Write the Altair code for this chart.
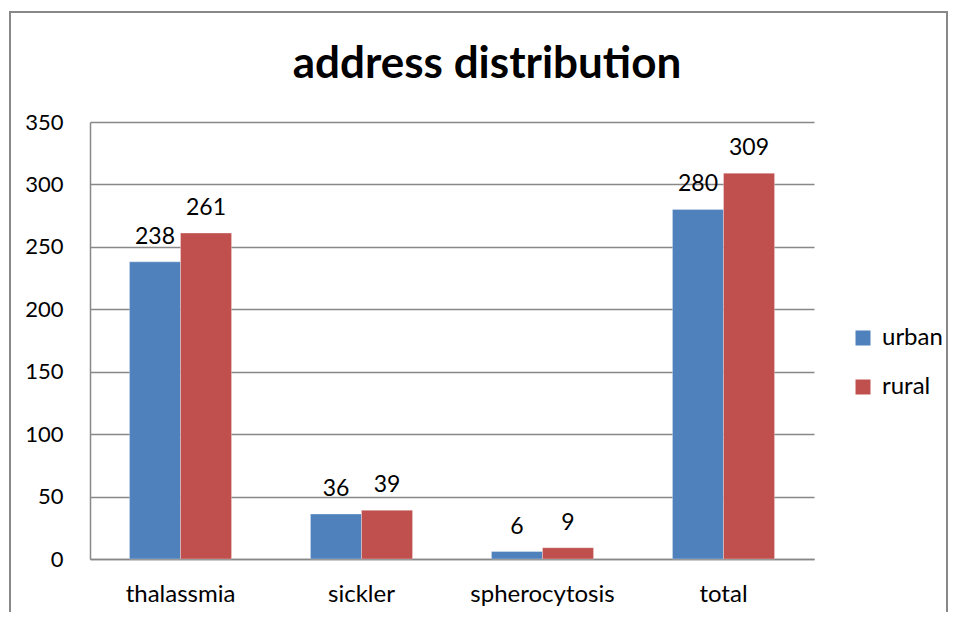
import altair as alt
import pandas as pd

categories = ["thalassmia", "sickler", "spherocytosis", "total"]
urban = [238, 36, 6, 280]
rural = [261, 39, 9, 309]
series = ["urban", "rural"]
colors = ["#4F81BD", "#C0504D"]
y_ticks = [0, 50, 100, 150, 200, 250, 300, 350]
title_text = "address distribution"

rows = []
for c, u, r in zip(categories, urban, rural):
    rows.append({"category": c, "series": "urban", "value": u})
    rows.append({"category": c, "series": "rural", "value": r})
df = pd.DataFrame(rows)

FONT = "Lato"
GRAY = "#888888"

x_enc = alt.X("category:N", sort=categories,
              scale=alt.Scale(paddingInner=0.436, paddingOuter=0.218),
              axis=alt.Axis(title=None, labelAngle=0, labelFontSize=24, labelFont=FONT,
                            labelColor="black", labelPadding=23, ticks=False,
                            domainColor=GRAY, domainWidth=1.5))
xo_enc = alt.XOffset("series:N", sort=series,
                     scale=alt.Scale(paddingInner=0, paddingOuter=0))
y_enc = alt.Y("value:Q", scale=alt.Scale(domain=[0, 350], nice=False),
              axis=alt.Axis(title=None, values=y_ticks, labelFontSize=22, labelFont=FONT,
                            labelColor="black", labelPadding=27, ticks=False,
                            grid=True, gridColor=GRAY, gridWidth=1.3,
                            domainColor=GRAY, domainWidth=1.5))

base = alt.Chart(df)

bars = base.mark_bar(stroke="white", strokeWidth=0.5, strokeOpacity=0.6).encode(
    x=x_enc, xOffset=xo_enc, y=y_enc,
    color=alt.Color("series:N", sort=series,
                    scale=alt.Scale(domain=series, range=colors),
                    legend=alt.Legend(title=None, orient="none", legendX=761, legendY=204,
                                      symbolType="square", symbolSize=225,
                                      symbolStrokeWidth=0, labelFontSize=24,
                                      labelFont=FONT, labelColor="black",
                                      rowPadding=25, labelOffset=7)),
)

labels = base.mark_text(fontSize=23, font=FONT, color="black", baseline="alphabetic", dy=-18).encode(
    x=x_enc, xOffset=xo_enc, y=y_enc, text="value:Q",
)

border = alt.Chart(alt.Data(values=[{}])).mark_rect(
    fillOpacity=0, stroke=GRAY, strokeWidth=2
).encode(
    x=alt.value(-80), x2=alt.value(857), y=alt.value(-110), y2=alt.value(520)
)

title = alt.Chart(alt.Data(values=[{"t": title_text}])).mark_text(
    fontSize=44, fontWeight="bold", font=FONT, color="black",
    align="center", baseline="alphabetic"
).encode(
    x=alt.value(397), y=alt.value(-44), text="t:N"
)

chart = alt.layer(border, bars, labels, title).properties(
    width=724, height=437,
    autosize=alt.AutoSizeParams(type="none"),
    padding={"left": 82, "top": 114, "right": 136, "bottom": 53},
).configure_view(stroke=None)

chart.save("out.html", embed_options={"renderer": "svg", "actions": False})
